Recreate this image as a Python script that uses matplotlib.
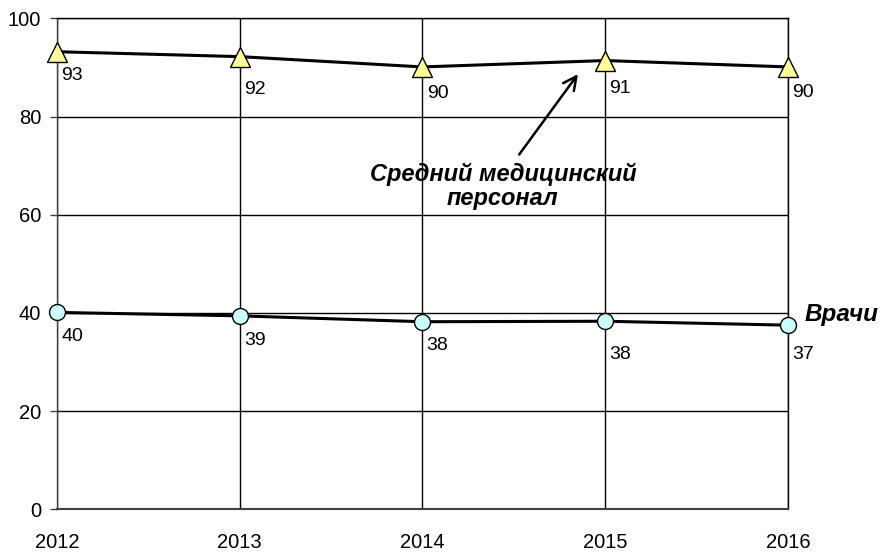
import matplotlib
matplotlib.use("Agg")
import matplotlib.pyplot as plt

years = [2012, 2013, 2014, 2015, 2016]
nurses = [93.2, 92.2, 90.1, 91.4, 90.1]
nurses_labels = ["93", "92", "90", "91", "90"]
doctors = [40.1, 39.4, 38.2, 38.3, 37.5]
doctors_labels = ["40", "39", "38", "38", "37"]
yticks = [0, 20, 40, 60, 80, 100]

# label vertical offsets below the point (pixels)
nurses_off = [24, 33, 27, 28, 26]
doctors_off = [24, 25, 24, 33, 29.5]

plt.rcParams['font.family'] = ['Liberation Sans', 'DejaVu Sans']

fig = plt.figure(figsize=(8.82, 5.52), dpi=100)
ax = fig.add_axes([0.0646, 0.0774, 0.8288, 0.8894])

for y in yticks[1:]:
    ax.axhline(y, color='black', lw=1, zorder=1)
for x in years:
    ax.axvline(x, color='black', lw=1, zorder=1)

ax.plot(years, nurses, color='black', lw=2.2, marker='^', markersize=15,
        markerfacecolor='#FFFF99', markeredgecolor='black', markeredgewidth=1, zorder=3, clip_on=False)
ax.plot(years, doctors, color='black', lw=2.2, marker='o', markersize=11.5,
        markerfacecolor='#CCFFFF', markeredgecolor='black', markeredgewidth=1, zorder=3, clip_on=False)

for x, y, t, o in zip(years, nurses, nurses_labels, nurses_off):
    ax.annotate(t, (x, y), xytext=(3, -o * 0.72), textcoords='offset points',
                ha='left', va='center', fontsize=14)
for x, y, t, o in zip(years, doctors, doctors_labels, doctors_off):
    ax.annotate(t, (x, y), xytext=(3, -o * 0.72), textcoords='offset points',
                ha='left', va='center', fontsize=14)

ax.text(2014.44, 65.7, "Средний медицинский\nперсонал", ha='center', va='center',
        fontsize=17, fontweight='bold', fontstyle='italic', linespacing=1.05)
ax.annotate("", xy=(2014.86, 89.1), xytext=(2014.52, 71.8),
            arrowprops=dict(arrowstyle='->', color='black', lw=1.8, mutation_scale=24))
ax.text(2016.09, 39.6, "Врачи", ha='left', va='center', fontsize=17.5,
        fontweight='bold', fontstyle='italic')

ax.set_xlim(2012, 2016)
ax.set_ylim(0, 100)
ax.set_xticks(years)
ax.set_xticklabels([str(y) for y in years])
ax.set_yticks(yticks)
ax.tick_params(axis='x', length=0, pad=17, labelsize=14.5)
ax.tick_params(axis='y', length=5, width=1, pad=6.5, labelsize=14.5, color='#404040')
for s in ax.spines.values():
    s.set_color('black')
    s.set_linewidth(1)
ax.spines['left'].set_color('#404040')
ax.spines['bottom'].set_color('#404040')
ax.spines['bottom'].set_linewidth(1.5)

fig.savefig("out.png", dpi=100)
